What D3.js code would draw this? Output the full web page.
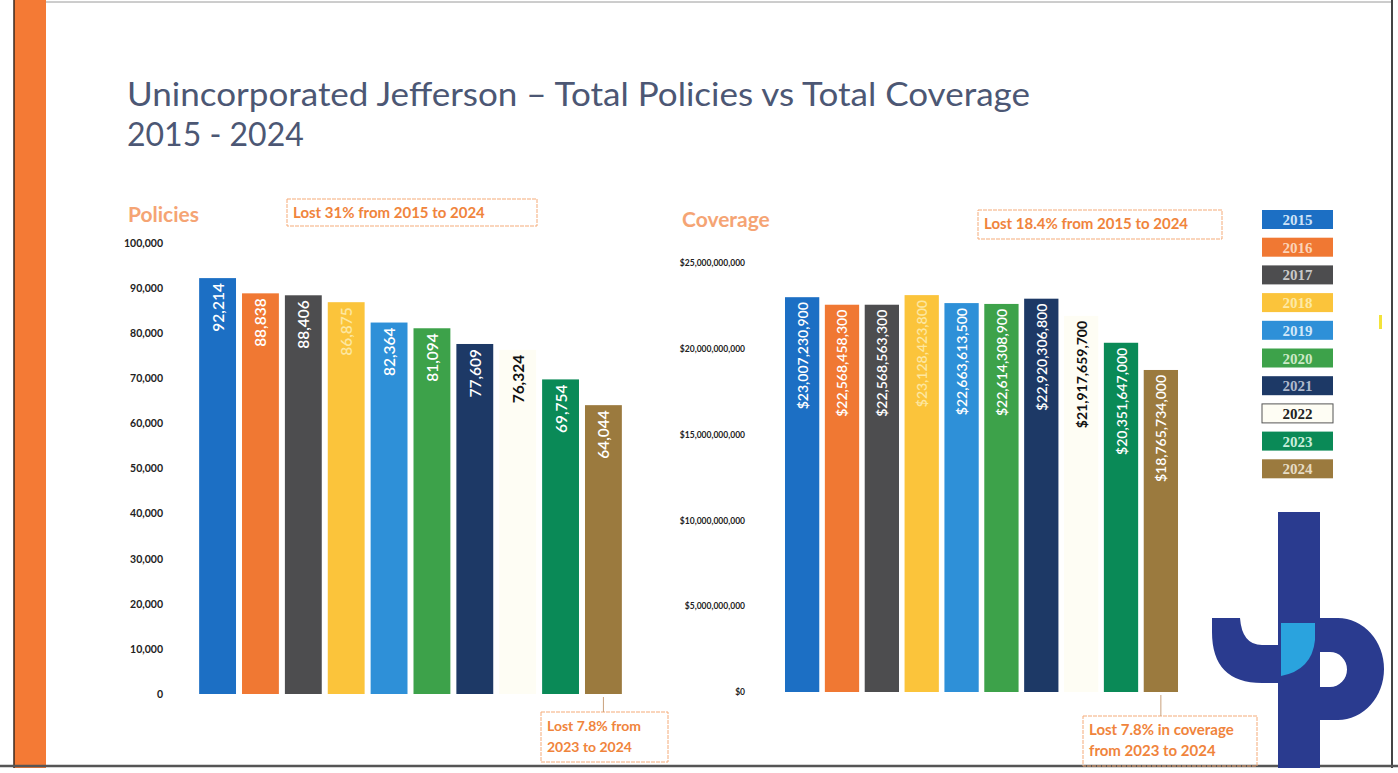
<!DOCTYPE html>
<html>

<head>
    <meta charset="utf-8">
    <script src="https://d3js.org/d3.v7.min.js"></script>
    <style>
        body { margin: 0; background: #fff; }
        text { font-family: Lato, "Open Sans", sans-serif; }
    </style>
</head>

<body>
    <script>
        // data
        const years = ["2015", "2016", "2017", "2018", "2019", "2020", "2021", "2022", "2023", "2024"];
        const policies = [92214, 88838, 88406, 86875, 82364, 81094, 77609, 76324, 69754, 64044];
        const coverage = [23007230900, 22568458300, 22568563300, 23128423800, 22663613500,
            22614308900, 22920306800, 21917659700, 20351647000, 18765734000];
        const policyTicks = [0, 10000, 20000, 30000, 40000, 50000, 60000, 70000, 80000, 90000, 100000];
        const coverageTicks = [0, 5e9, 10e9, 15e9, 20e9, 25e9];
        const barColors = ["#1c6fc4", "#f07833", "#4d4d4f", "#fbc43b", "#2e90d8",
            "#3da24a", "#1d3966", "#fefdf4", "#0a8a57", "#9b7a3e"];
        const legendText = ["#cfe3f7", "#fbd3b8", "#c9c9c9", "#fde9a6", "#d2e8f8",
            "#cbe9c6", "#aeb8cc", "#222222", "#c8eedb", "#e6dcc5"];

        let width = 1398;
        let height = 773;

        let svg = d3.select('body').append('svg')
            .attr('width', width)
            .attr('height', height);

        // slide frame
        svg.append('rect').attr('x', 14).attr('y', 0).attr('width', 32).attr('height', 768).attr('fill', '#f47a35');
        svg.append('line').attr('x1', 14).attr('x2', 14).attr('y1', 0).attr('y2', 768).attr('stroke', '#3a2a20').attr('stroke-width', 1.5);
        svg.append('line').attr('x1', 46).attr('x2', 1392).attr('y1', 2).attr('y2', 2).attr('stroke', '#9a9a9a').attr('stroke-width', 1);
        svg.append('line').attr('x1', 1392).attr('x2', 1392).attr('y1', 0).attr('y2', 768).attr('stroke', '#444').attr('stroke-width', 2);
        svg.append('line').attr('x1', 0).attr('x2', 1398).attr('y1', 766).attr('y2', 766).attr('stroke', '#555').attr('stroke-width', 2.5);

        // title
        svg.append('text').attr('x', 127).attr('y', 106)
            .attr('font-size', 32).attr('fill', '#4c5774')
            .attr('textLength', 903).attr('lengthAdjust', 'spacingAndGlyphs')
            .text('Unincorporated Jefferson \u2013 Total Policies vs Total Coverage');
        svg.append('text').attr('x', 127).attr('y', 146)
            .attr('font-size', 32).attr('fill', '#4c5774')
            .text('2015 - 2024');

        function note(x, y, w, h, lines, size) {
            svg.append('rect').attr('x', x).attr('y', y).attr('width', w).attr('height', h)
                .attr('fill', 'none').attr('stroke', '#f5ab78').attr('stroke-width', 1)
                .attr('stroke-dasharray', '4,1');
            lines.forEach(function (t, i) {
                svg.append('text').attr('x', x + 6).attr('y', y + 19 + i * 21)
                    .attr('font-size', size).attr('font-weight', 'bold').attr('fill', '#f0843c')
                    .text(t);
            });
        }

        function chart(values, ticks, fmt, xr, yr, axisX, title, titlePos, tickSize, labelSize) {
            let x = d3.scaleBand().domain(years).range(xr).paddingInner(0.14).paddingOuter(0.05);
            let y = d3.scaleLinear().domain([0, ticks[ticks.length - 1]]).range(yr);

            svg.append('text').attr('x', titlePos[0]).attr('y', titlePos[1])
                .attr('font-size', 21).attr('font-weight', 'bold').attr('fill', '#f5a474')
                .text(title);

            let axis = svg.append('g').attr('transform', 'translate(' + axisX + ',0)')
                .call(d3.axisLeft(y).tickValues(ticks).tickFormat(fmt).tickSize(0).tickPadding(0));
            axis.select('.domain').remove();
            axis.selectAll('text').attr('font-size', tickSize).attr('font-weight', 'bold').attr('fill', '#222')
                .style('font-family', 'Lato, sans-serif');

            svg.append('g').selectAll('rect')
                .data(values)
                .enter()
                .append('rect')
                .attr('x', function (d, i) { return x(years[i]); })
                .attr('y', function (d) { return y(d); })
                .attr('width', x.bandwidth())
                .attr('height', function (d) { return y(0) - y(d); })
                .attr('fill', function (d, i) { return barColors[i]; });

            svg.append('g').selectAll('text')
                .data(values)
                .enter()
                .append('text')
                .attr('transform', function (d, i) {
                    return 'translate(' + (x(years[i]) + x.bandwidth() / 2) + ',' + (y(d) + 5) + ') rotate(-90)';
                })
                .attr('text-anchor', 'end')
                .attr('dominant-baseline', 'central')
                .attr('font-size', labelSize)
                .attr('font-weight', function (d, i) { return i == 7 ? 'bold' : '600'; })
                .attr('fill', function (d, i) { return i == 7 ? '#111' : (i == 3 ? '#fde7a0' : '#fff'); })
                .text(function (d) { return fmt(d); });

            return x;
        }

        let commas = d3.format(',');
        let dollars = function (d) { return '$' + commas(d); };

        let xl = chart(policies, policyTicks, commas, [197, 624], [694, 243], 163, 'Policies', [128, 222], 10.5, 15.5);
        let xr = chart(coverage, coverageTicks, dollars, [783, 1180], [692, 263], 745, 'Coverage', [682, 227], 8.5, 14);

        note(287, 199, 250, 27, ['Lost 31% from 2015 to 2024'], 15);
        note(978, 210, 244, 29, ['Lost 18.4% from 2015 to 2024'], 15);
        note(541, 712, 127, 50, ['Lost 7.8% from', '2023 to 2024'], 14);
        note(1083, 716, 174, 50, ['Lost 7.8% in coverage', 'from 2023 to 2024'], 15);

        // connectors from the 2024 bars down to the notes
        let cl = xl('2024') + xl.bandwidth() / 2;
        svg.append('line').attr('x1', cl).attr('x2', cl).attr('y1', 697).attr('y2', 712).attr('stroke', '#c9a07a');
        let cr = xr('2024') + xr.bandwidth() / 2;
        svg.append('line').attr('x1', cr).attr('x2', cr).attr('y1', 695).attr('y2', 716).attr('stroke', '#c9a07a');

        // legend
        let leg = svg.append('g').selectAll('g')
            .data(years)
            .enter()
            .append('g')
            .attr('transform', function (d, i) { return 'translate(1262,' + (210 + i * 27.7) + ')'; });
        leg.append('rect').attr('width', 71).attr('height', 19)
            .attr('fill', function (d, i) { return barColors[i]; })
            .attr('stroke', function (d, i) { return i == 7 ? '#555' : 'none'; });
        leg.append('text').attr('x', 35.5).attr('y', 15).attr('text-anchor', 'middle')
            .attr('font-size', 15).attr('font-weight', 'bold').style('font-family', '"Liberation Serif", serif')
            .attr('fill', function (d, i) { return legendText[i]; })
            .text(function (d) { return d; });

        // small yellow mark
        svg.append('rect').attr('x', 1379).attr('y', 315).attr('width', 3).attr('height', 14).attr('fill', '#f3e33a');

        // logo
        let logo = svg.append('g');
        logo.append('rect').attr('x', 1278).attr('y', 512).attr('width', 42).attr('height', 256).attr('fill', '#2a3b8f');
        logo.append('path').attr('fill', '#2a3b8f')
            .attr('d', 'M1212,618 L1240,618 Q1242,645 1262,645 L1280,645 L1280,683 L1262,683 Q1212,683 1212,632 Z');
        logo.append('path').attr('fill', '#2a3b8f').attr('fill-rule', 'evenodd')
            .attr('d', 'M1318,618 L1338,618 A46 51 0 0 1 1338,720 L1318,720 Z M1318,652 L1330,652 A17 17.5 0 0 1 1330,687 L1318,687 Z');
        logo.append('path').attr('fill', '#2aa3de')
            .attr('d', 'M1281,623 L1315,623 L1315,640 Q1312,670 1281,676 Z');
    </script>
</body>

</html>
